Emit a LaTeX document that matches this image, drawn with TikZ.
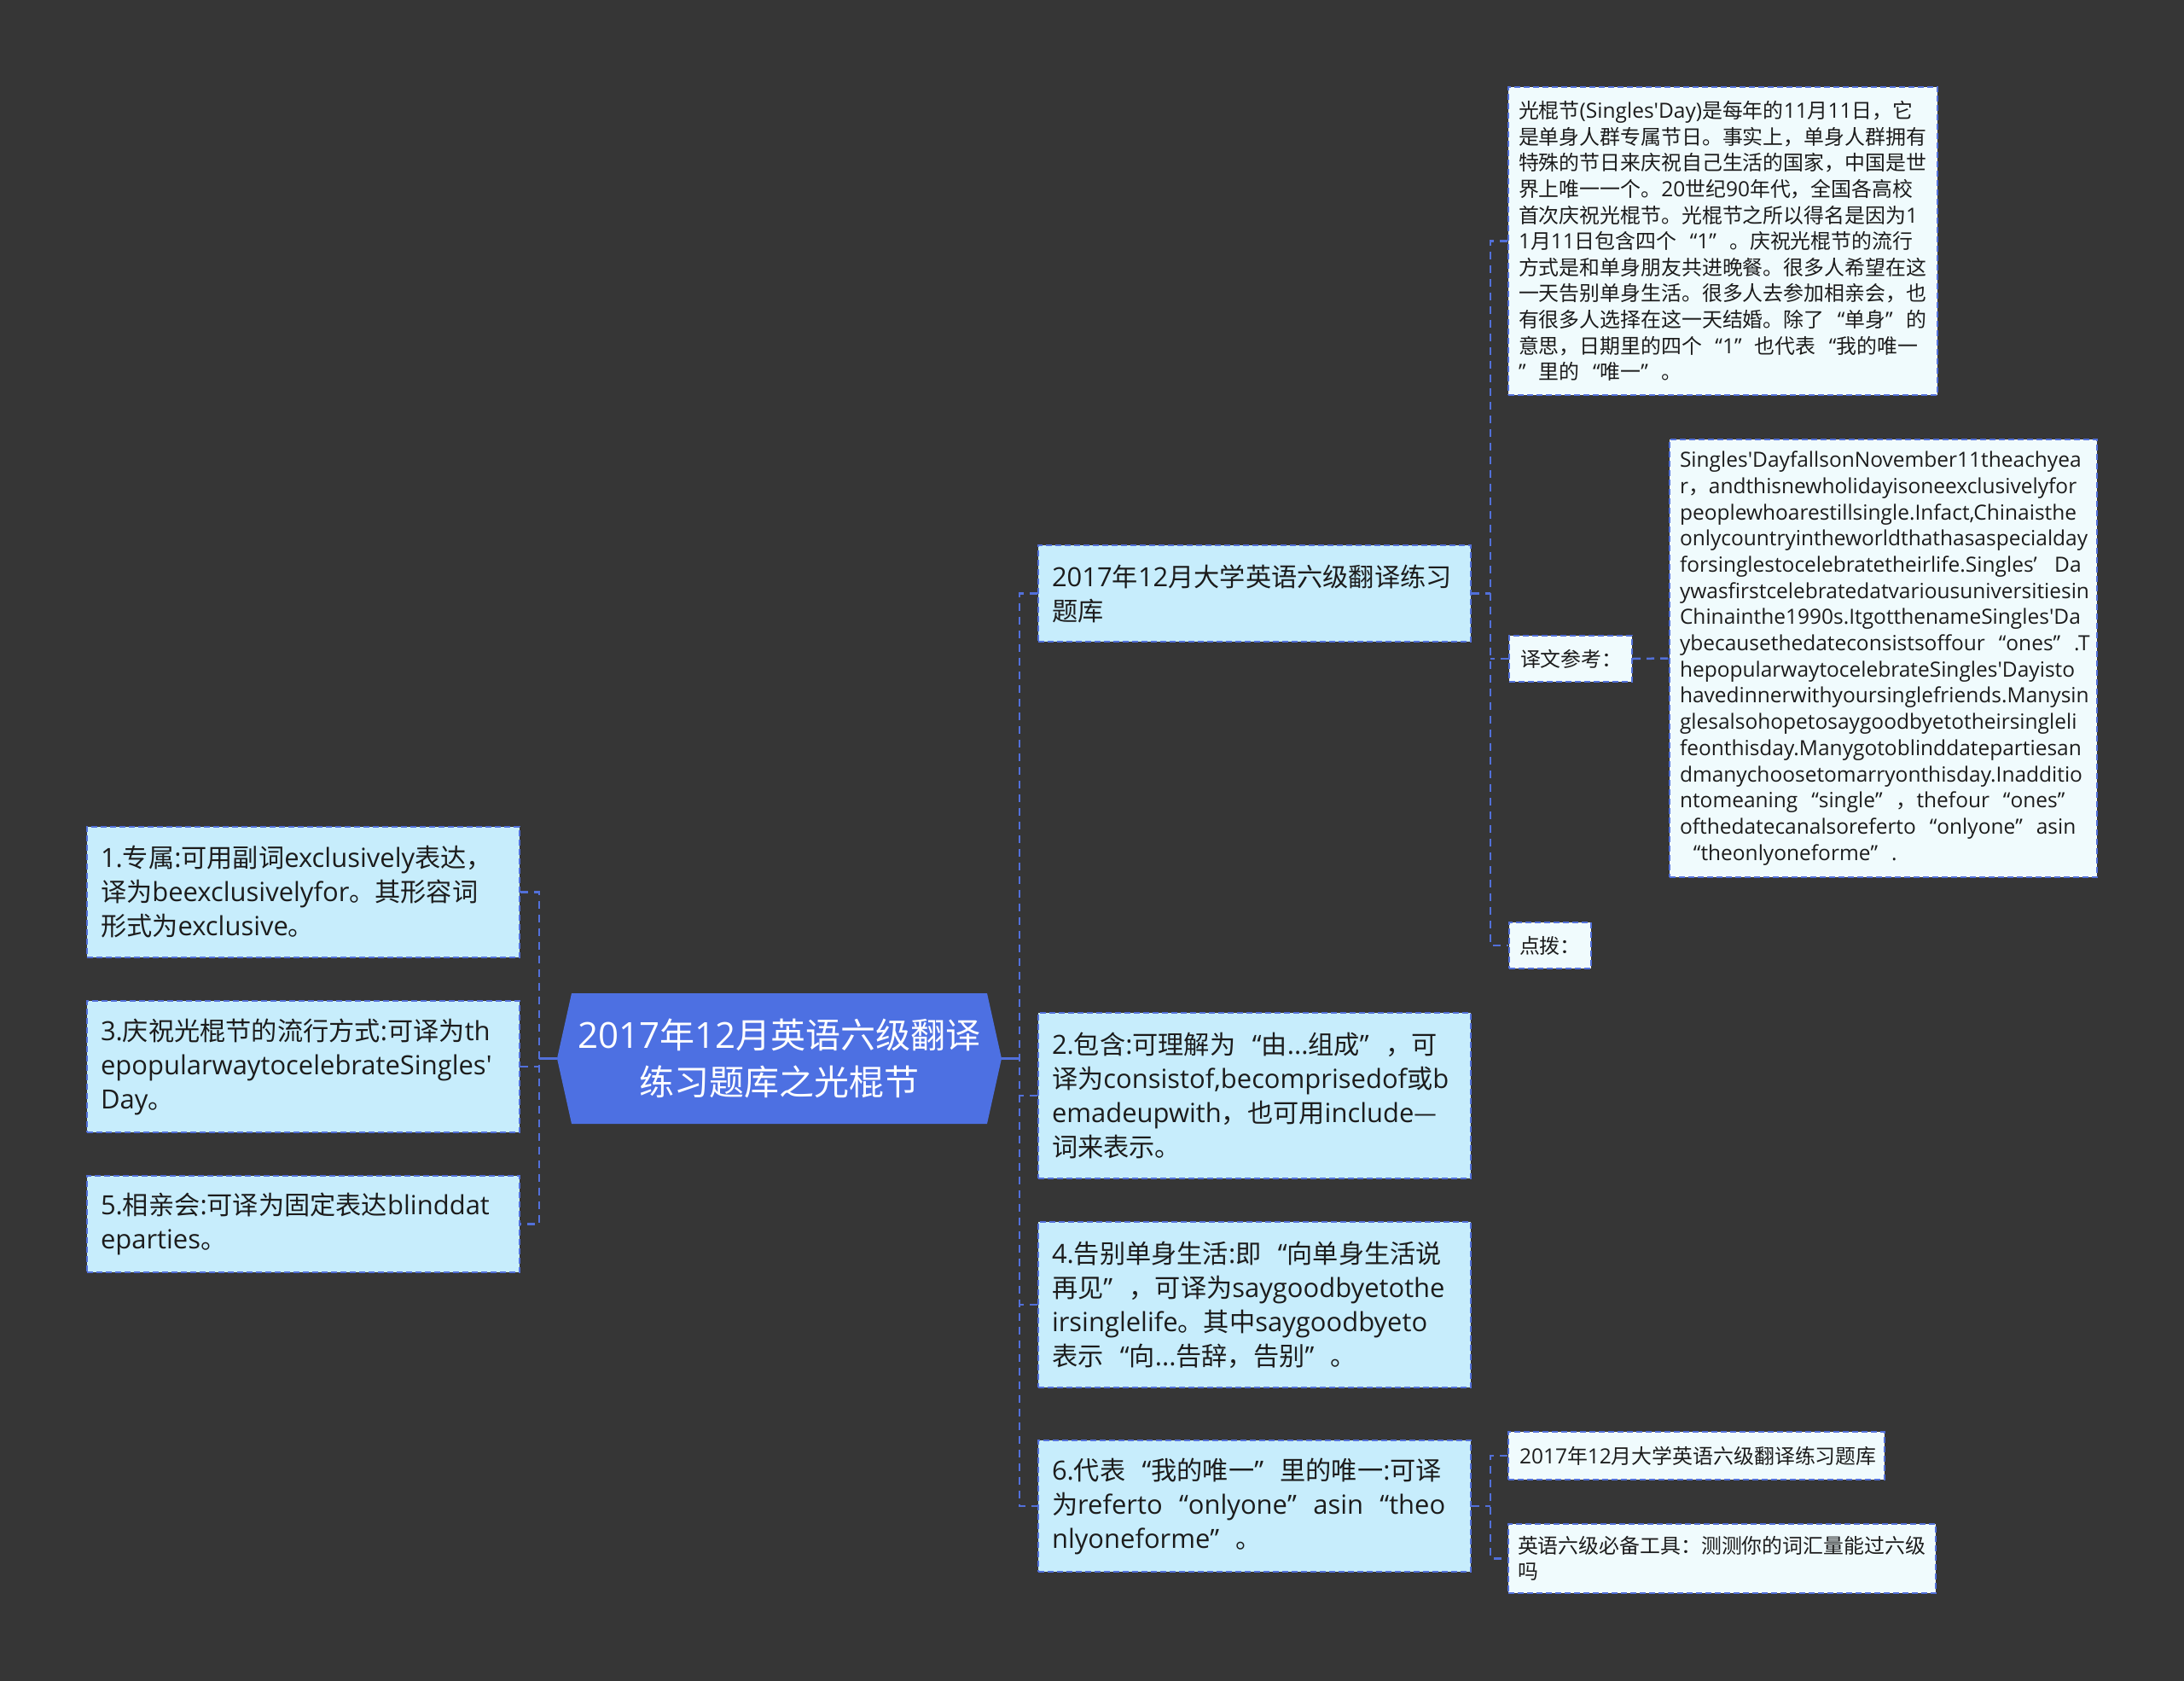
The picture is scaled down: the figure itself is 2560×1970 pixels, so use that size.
\documentclass[tikz,border=0pt]{standalone}
\usepackage{fontspec}
\setmainfont{Noto Sans CJK SC}
\newfontfamily\cjkfont{Noto Sans CJK SC}
\newfontfamily\latfont{Open Sans}[Ligatures=TeXOff, Scale=1.025]
\newcommand\ltn[1]{{\latfont #1}}
\newcommand\LQ{\makebox[1em][r]{\latfont “}}
\newcommand\RQ{\makebox[1em][l]{\latfont ”}}
\newcommand\RSQ{\makebox[1em][l]{\latfont ’}}
\definecolor{bgc}{RGB}{54,54,54}
\definecolor{lineblue}{RGB}{82,112,218}
\definecolor{centreblue}{RGB}{77,112,226}
\definecolor{fillone}{RGB}{199,237,252}
\definecolor{filltwo}{RGB}{240,251,253}
\definecolor{textdark}{RGB}{28,28,28}
\tikzset{
  lvone/.style={draw=lineblue, line width=2pt, dash pattern=on 7pt off 4pt, fill=fillone, text=textdark,
    font=\fontsize{30.2}{40}\selectfont, align=left, inner xsep=16pt, inner ysep=0pt,
    text width=475pt, minimum width=507pt},
  lvtwo/.style={draw=lineblue, line width=2pt, dash pattern=on 7pt off 4pt, fill=filltwo, text=textdark,
    font=\fontsize{23.9}{30.6}\selectfont, align=left, inner xsep=13pt, inner ysep=0pt},
  centre/.style={minimum width=521pt, minimum height=153pt, inner sep=0pt, text=white, fill=bgc,
    font=\fontsize{41}{55}\selectfont, align=center,
    path picture={\fill[centreblue] ([xshift=17pt]path picture bounding box.north west)
      -- ([xshift=-17pt]path picture bounding box.north east) -- (path picture bounding box.east)
      -- ([xshift=-17pt]path picture bounding box.south east) -- ([xshift=17pt]path picture bounding box.south west)
      -- (path picture bounding box.west) -- cycle;}},
  conn/.style={draw=lineblue, line width=2.5pt, dash pattern=on 9pt off 7pt},
  stub/.style={draw=lineblue, line width=2.5pt},
}
\begin{document}
\begin{tikzpicture}[x=1pt,y=-1pt]
\fill[bgc] (0,0) rectangle (2560,1970);
\useasboundingbox (0,0) rectangle (2560,1970);

% centre
\node[centre] (c) at (913.5,1240.5) {\ltn{2017}年\ltn{12}月英语六级翻译\\练习题库之光棍节};

% left column
\node[lvone, minimum height=153pt] (b1) at (355.5,1045.5) {\ltn{1.}专属\ltn{:}可用副词\ltn{exclusively}表达，\\译为\ltn{beexclusivelyfor}。其形容词\\形式为\ltn{exclusive}。};
\node[lvone, minimum height=154pt] (b3) at (355.5,1250) {\ltn{3.}庆祝光棍节的流行方式\ltn{:}可译为\ltn{th}\\\ltn{epopularwaytocelebrateSingles'}\\\ltn{Day}。};
\node[lvone, minimum height=113pt] (b5) at (355.5,1434.5) {\ltn{5.}相亲会\ltn{:}可译为固定表达\ltn{blinddat}\\\ltn{eparties}。};

% right column
\node[lvone, minimum height=113pt] (A) at (1470.5,695.5) {\ltn{2017}年\ltn{12}月大学英语六级翻译练习\\题库};
\node[lvone, minimum height=194pt] (B) at (1470.5,1284) {\ltn{2.}包含\ltn{:}可理解为\LQ 由\ltn{...}组成\RQ，可\\译为\ltn{consistof,becomprisedof}或\ltn{b}\\\ltn{emadeupwith}，也可用\ltn{include}—\\词来表示。};
\node[lvone, minimum height=194pt] (s4) at (1470.5,1529) {\ltn{4.}告别单身生活\ltn{:}即\LQ 向单身生活说\\再见\RQ，可译为\ltn{saygoodbyetothe}\\\ltn{irsinglelife}。其中\ltn{saygoodbyeto}\\表示\LQ 向\ltn{...}告辞，告别\RQ。};
\node[lvone, minimum height=154pt] (s6) at (1470.5,1765) {\ltn{6.}代表\LQ 我的唯一\RQ 里的唯一\ltn{:}可译\\为\ltn{referto}\LQ\ltn{onlyone}\RQ\ltn{asin}\LQ\ltn{theo}\\\ltn{nlyoneforme}\RQ。};

% level two
\node[lvtwo, text width=479pt, inner xsep=12pt, minimum height=361pt] (P) at (2019.5,282.5) {光棍节\ltn{(Singles'Day)}是每年的\ltn{11}月\ltn{11}日，它\\
是单身人群专属节日。事实上，单身人群拥有\\
特殊的节日来庆祝自己生活的国家，中国是世\\
界上唯一一个。\ltn{20}世纪\ltn{90}年代，全国各高校\\
首次庆祝光棍节。光棍节之所以得名是因为\ltn{1}\\
\ltn{1}月\ltn{11}日包含四个\LQ\ltn{1}\RQ。庆祝光棍节的流行\\
方式是和单身朋友共进晚餐。很多人希望在这\\
一天告别单身生活。很多人去参加相亲会，也\\
有很多人选择在这一天结婚。除了\LQ 单身\RQ 的\\
意思，日期里的四个\LQ\ltn{1}\RQ 也代表\LQ 我的唯一\\
\RQ 里的\LQ 唯一\RQ。};
\node[lvtwo, text width=118pt, inner xsep=13pt, minimum height=54pt] (Y) at (1841,772) {译文参考：};
\node[lvtwo, text width=72pt, inner xsep=12pt, minimum height=54pt] (D) at (1817,1108) {点拨：};
\node[lvtwo, text width=477pt, inner xsep=12pt, minimum height=513pt, font=\fontsize{23.9}{30.7}\selectfont\latfont] (E) at (2207.5,771.5) {Singles'DayfallsonNovember11theachyea\\
r{\cjkfont ，}andthisnewholidayisoneexclusivelyfor\\
peoplewhoarestillsingle.Infact,Chinaisthe\\
onlycountryintheworldthathasaspecialday\\
forsinglestocelebratetheirlife.Singles\RSQ Da\\
ywasfirstcelebratedatvariousuniversitiesin\\
Chinainthe1990s.ItgotthenameSingles'Da\\
ybecausethedateconsistsoffour\LQ ones\RQ.T\\
hepopularwaytocelebrateSingles'Dayisto\\
havedinnerwithyoursinglefriends.Manysin\\
glesalsohopetosaygoodbyetotheirsingleli\\
feonthisday.Manygotoblinddatepartiesan\\
dmanychoosetomarryonthisday.Inadditio\\
ntomeaning\LQ single\RQ{\cjkfont ，}thefour\LQ ones\RQ\\
ofthedatecanalsoreferto\LQ onlyone\RQ asin\\
\LQ theonlyoneforme\RQ.};
\node[lvtwo, text width=415pt, minimum height=56pt] (R1) at (1988.5,1706) {\ltn{2017}年\ltn{12}月大学英语六级翻译练习题库};
\node[lvtwo, text width=479pt, inner xsep=11pt, minimum height=81pt] (R2) at (2018.5,1826.5) {英语六级必备工具：测测你的词汇量能过六级\\吗};

% connectors left
\coordinate (jl) at (632,1240.5);
\draw[stub] (c.west) -- (jl);
\draw[conn] (b1.east) -- (b1.east -| jl) -- (b5.east -| jl) -- (b5.east);
\draw[conn] (b3.east) -- (b3.east -| jl);

% connectors right
\coordinate (jr) at (1195,1240.5);
\draw[stub] (c.east) -- (jr);
\draw[conn] (A.west) -- (A.west -| jr) -- (s6.west -| jr) -- (s6.west);
\draw[conn] (B.west) -- (B.west -| jr);
\draw[conn] (s4.west) -- (s4.west -| jr);

\coordinate (ja) at (1747,695.5);
\draw[conn] (A.east) -- (ja);
\draw[conn] (P.west) -- (P.west -| ja) -- (D.west -| ja) -- (D.west);
\draw[conn] (Y.west) -- (Y.west -| ja);
\draw[conn] (Y.east) -- (E.west);

\coordinate (jb) at (1747,1765);
\draw[conn] (s6.east) -- (jb);
\draw[conn] (R1.west) -- (R1.west -| jb) -- (R2.west -| jb) -- (R2.west);
\end{tikzpicture}
\end{document}
